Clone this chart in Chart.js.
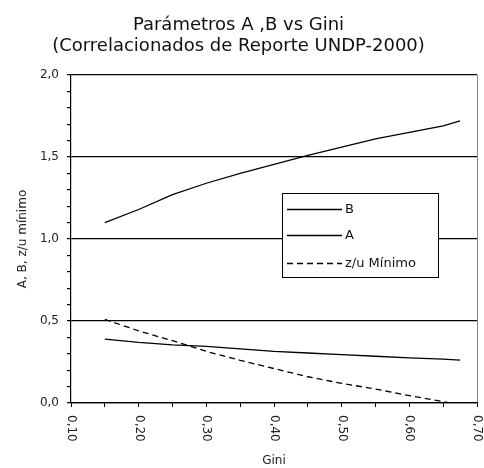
<!DOCTYPE html>
<html>
<head>
<meta charset="utf-8">
<script src="https://cdn.jsdelivr.net/npm/chart.js@4.4.1/dist/chart.umd.min.js"></script>
<style>
html,body{margin:0;padding:0;background:#fff;}
#wrap{width:484px;height:468px;position:relative;}
</style>
</head>
<body>
<div id="wrap"><canvas id="c" width="484" height="468"></canvas></div>
<script>
// ---- data ----
const titleLines = ['Parámetros A ,B vs Gini', '(Correlacionados de Reporte UNDP-2000)'];
const xTitle = 'Gini';
const yTitle = 'A, B, z/u mínimo';
const seriesNames = ['B', 'A', 'z/u Mínimo'];
const giniAB = [0.15, 0.20, 0.25, 0.30, 0.35, 0.40, 0.45, 0.50, 0.55, 0.60, 0.65, 0.675];
const valuesB = [1.10, 1.18, 1.27, 1.34, 1.40, 1.455, 1.51, 1.56, 1.61, 1.65, 1.69, 1.72];
const valuesA = [0.39, 0.37, 0.355, 0.345, 0.33, 0.315, 0.305, 0.295, 0.285, 0.275, 0.267, 0.262];
const giniZ = [0.15, 0.20, 0.25, 0.30, 0.35, 0.40, 0.45, 0.50, 0.55, 0.60, 0.65, 0.66];
const valuesZ = [0.51, 0.44, 0.38, 0.315, 0.26, 0.21, 0.16, 0.12, 0.085, 0.045, 0.008, 0.0];
const xTickValues = [0.10, 0.20, 0.30, 0.40, 0.50, 0.60, 0.70];
const xTickLabels = ['0,10', '0,20', '0,30', '0,40', '0,50', '0,60', '0,70'];
const yTickLabels = {0: '0,0', 0.5: '0,5', 1: '1,0', 1.5: '1,5', 2: '2,0'};

const FONT = '"DejaVu Sans", Verdana, sans-serif';
const pts = (xs, ys) => xs.map((x, i) => ({x: x, y: ys[i]}));
const isMult = (v, m) => Math.abs(v / m - Math.round(v / m)) < 1e-6;

const xLabelPlugin = {
  id: 'xLabels',
  afterDraw(chart) {
    const s = chart.scales.x, ctx = chart.ctx;
    ctx.save();
    ctx.fillStyle = '#222';
    ctx.font = '12px ' + FONT;
    ctx.textAlign = 'left';
    ctx.textBaseline = 'middle';
    xTickValues.forEach((v, i) => {
      const px = s.getPixelForValue(v);
      ctx.save();
      ctx.translate(px, s.top + 12);
      ctx.rotate(Math.PI / 2);
      ctx.fillText(xTickLabels[i], 0, 0);
      ctx.restore();
    });
    ctx.restore();
  }
};

const legendPlugin = {
  id: 'boxLegend',
  afterDatasetsDraw(chart) {
    const ctx = chart.ctx;
    const bx = 282, by = 193, bw = 156, bh = 84;
    ctx.save();
    ctx.fillStyle = '#fff';
    ctx.fillRect(bx, by, bw, bh);
    ctx.strokeStyle = '#000';
    ctx.lineWidth = 1;
    ctx.strokeRect(bx + 0.5, by + 0.5, bw, bh);
    ctx.font = '13px ' + FONT;
    ctx.textBaseline = 'middle';
    ctx.textAlign = 'left';
    const rows = [209, 235, 263];
    chart.data.datasets.forEach((ds, i) => {
      const y = rows[i] + 0.5;
      ctx.beginPath();
      ctx.setLineDash(ds.borderDash || []);
      ctx.strokeStyle = ds.borderColor;
      ctx.lineWidth = ds.borderWidth;
      ctx.moveTo(287, y);
      ctx.lineTo(342, y);
      ctx.stroke();
      ctx.setLineDash([]);
      ctx.fillStyle = '#111';
      ctx.fillText(ds.label, 345, y);
    });
    ctx.restore();
  }
};

new Chart(document.getElementById('c'), {
  type: 'line',
  data: {
    datasets: [
      {label: seriesNames[0], data: pts(giniAB, valuesB), borderColor: '#000', borderWidth: 1.3, pointRadius: 0, tension: 0, fill: false},
      {label: seriesNames[1], data: pts(giniAB, valuesA), borderColor: '#000', borderWidth: 1.3, pointRadius: 0, tension: 0, fill: false},
      {label: seriesNames[2], data: pts(giniZ, valuesZ), borderColor: '#000', borderWidth: 1.3, borderDash: [6, 4], pointRadius: 0, tension: 0, fill: false}
    ]
  },
  options: {
    responsive: false,
    animation: false,
    devicePixelRatio: 1,
    layout: {padding: {left: 0, right: 7, top: 0, bottom: 0}},
    plugins: {
      legend: {display: false},
      tooltip: {enabled: false},
      title: {
        display: true,
        text: titleLines,
        color: '#111',
        font: {family: FONT, size: 18, weight: 'normal', lineHeight: 1.167},
        padding: {top: 15, bottom: 18}
      }
    },
    scales: {
      x: {
        type: 'linear',
        min: 0.10,
        max: 0.70,
        ticks: {display: false, stepSize: 0.05, autoSkip: false, maxTicksLimit: 100},
        grid: {
          color: c => (c.tick && c.tick.value > 0.69) ? '#888' : 'rgba(0,0,0,0)',
          tickColor: '#000',
          tickLength: 4,
          drawTicks: true
        },
        border: {display: true, color: '#000', width: 1.2},
        title: {
          display: true,
          text: xTitle,
          color: '#222',
          font: {family: FONT, size: 12},
          padding: {top: 0, bottom: 0}
        },
        afterFit: s => { s.height = 65; }
      },
      y: {
        type: 'linear',
        min: 0,
        max: 2,
        ticks: {
          stepSize: 0.1,
          autoSkip: false,
          maxTicksLimit: 100,
          color: '#222',
          padding: 8,
          font: {family: FONT, size: 12},
          callback: v => isMult(v, 0.5) ? yTickLabels[Math.round(v * 2) / 2] : ''
        },
        grid: {
          color: c => (c.tick && isMult(c.tick.value, 0.5)) ? '#000' : 'rgba(0,0,0,0)',
          tickColor: '#000',
          tickLength: 4,
          lineWidth: 1.2
        },
        border: {display: true, color: '#000', width: 1.2},
        title: {
          display: true,
          text: yTitle,
          color: '#222',
          font: {family: FONT, size: 12},
          padding: {top: 16, bottom: 0}
        },
        afterFit: s => { s.width = 71; }
      }
    }
  },
  plugins: [legendPlugin, xLabelPlugin]
});
</script>
</body>
</html>
